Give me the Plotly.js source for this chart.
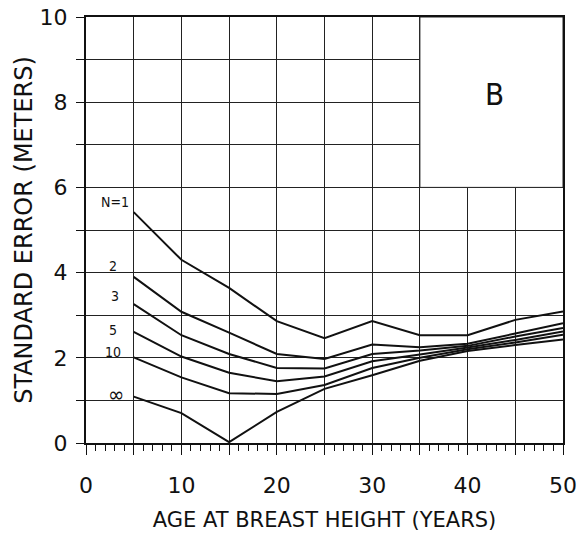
<!DOCTYPE html>
<html>
<head>
<meta charset="utf-8">
<script src="https://cdn.plot.ly/plotly-3.0.1.min.js"></script>
<style>html,body{margin:0;padding:0;background:#fff;}#chart{width:578px;height:534px;}</style>
</head>
<body>
<div id="chart"></div>
<script>
// Age at breast height (years)
const ages = [5, 10, 15, 20, 25, 30, 35, 40, 45, 50];
// Standard error (meters) for each N
const seN1   = [5.42, 4.30, 3.64, 2.86, 2.46, 2.86, 2.53, 2.53, 2.89, 3.09];
const seN2   = [3.90, 3.08, 2.59, 2.09, 1.97, 2.31, 2.25, 2.33, 2.57, 2.81];
const seN3   = [3.26, 2.53, 2.09, 1.76, 1.75, 2.09, 2.17, 2.28, 2.50, 2.70];
const seN5   = [2.61, 2.03, 1.65, 1.45, 1.56, 1.92, 2.08, 2.24, 2.42, 2.62];
const seN10  = [2.01, 1.54, 1.17, 1.15, 1.36, 1.76, 2.00, 2.20, 2.36, 2.54];
const seNinf = [1.09, 0.70, 0.02, 0.73, 1.27, 1.59, 1.93, 2.16, 2.30, 2.43];

const seriesNames = ["N=1", "2", "3", "5", "10", "\u221E"];
const seriesValues = [seN1, seN2, seN3, seN5, seN10, seNinf];
// label anchor positions (data units)
const labelX = [3.0, 2.8, 3.0, 2.8, 2.8, 3.2];
const labelY = [5.65, 4.15, 3.45, 2.65, 2.14, 1.14];

const xTickVals = [0, 5, 10, 15, 20, 25, 30, 35, 40, 45, 50];
const xTickText = ["0", "", "10", "", "20", "", "30", "", "40", "", "50"];
const yTickVals = [0, 1, 2, 3, 4, 5, 6, 7, 8, 9, 10];
const yTickText = ["0", "", "2", "", "4", "", "6", "", "8", "", "10"];

const FONT = "DejaVu Sans, sans-serif";
const CFONT = "DejaVu Sans Condensed, DejaVu Sans, sans-serif";

const traces = seriesValues.map((vals, i) => ({
  x: ages, y: vals, type: "scatter", mode: "lines",
  name: seriesNames[i],
  line: {color: "#111", width: 2},
  hoverinfo: "x+y+name"
}));

const annotations = seriesNames.map((nm, i) => ({
  x: labelX[i], y: labelY[i], xref: "x", yref: "y",
  text: nm, showarrow: false,
  xanchor: "center", yanchor: "middle",
  font: {family: CFONT, size: i === 5 ? 22 : 14, color: "#111"}
}));
annotations.push({
  x: 42.8, y: 8.2, xref: "x", yref: "y", text: "B", showarrow: false,
  font: {family: CFONT, size: 31, color: "#111"}
});

const layout = {
  width: 578, height: 534,
  margin: {l: 86, r: 15, t: 17, b: 91},
  paper_bgcolor: "#fff", plot_bgcolor: "#fff",
  showlegend: false,
  xaxis: {
    range: [0, 50], tickmode: "array", tickvals: xTickVals, ticktext: xTickText,
    showgrid: true, gridcolor: "#222", gridwidth: 1,
    showline: true, linecolor: "#111", linewidth: 2, mirror: true,
    ticks: "outside", ticklen: 10, tickcolor: "#111", tickwidth: 1,
    ticklabelstandoff: 12,
    minor: {dtick: 1, ticks: "outside", ticklen: 6, tickcolor: "#111", showgrid: false},
    zeroline: false,
    tickfont: {family: FONT, size: 22, color: "#111"},
    title: {text: "AGE AT BREAST HEIGHT (YEARS)", font: {family: FONT, size: 21, color: "#111"}, standoff: 15}
  },
  yaxis: {
    range: [0, 10], tickmode: "array", tickvals: yTickVals, ticktext: yTickText,
    showgrid: true, gridcolor: "#222", gridwidth: 1,
    showline: true, linecolor: "#111", linewidth: 2, mirror: true,
    ticks: "outside", ticklen: 8, tickcolor: "#111", tickwidth: 1,
    ticklabelstandoff: 4,
    zeroline: false,
    tickfont: {family: FONT, size: 22, color: "#111"},
    title: {text: "STANDARD ERROR (METERS)", font: {family: FONT, size: 24, color: "#111"}, standoff: 0}
  },
  shapes: [{
    type: "rect", xref: "x", yref: "y", x0: 35, x1: 50, y0: 6, y1: 10,
    fillcolor: "#fff", line: {color: "#222", width: 1}, layer: "between"
  }],
  annotations: annotations
};

Plotly.newPlot("chart", traces, layout, {displayModeBar: false, staticPlot: true});
</script>
</body>
</html>
